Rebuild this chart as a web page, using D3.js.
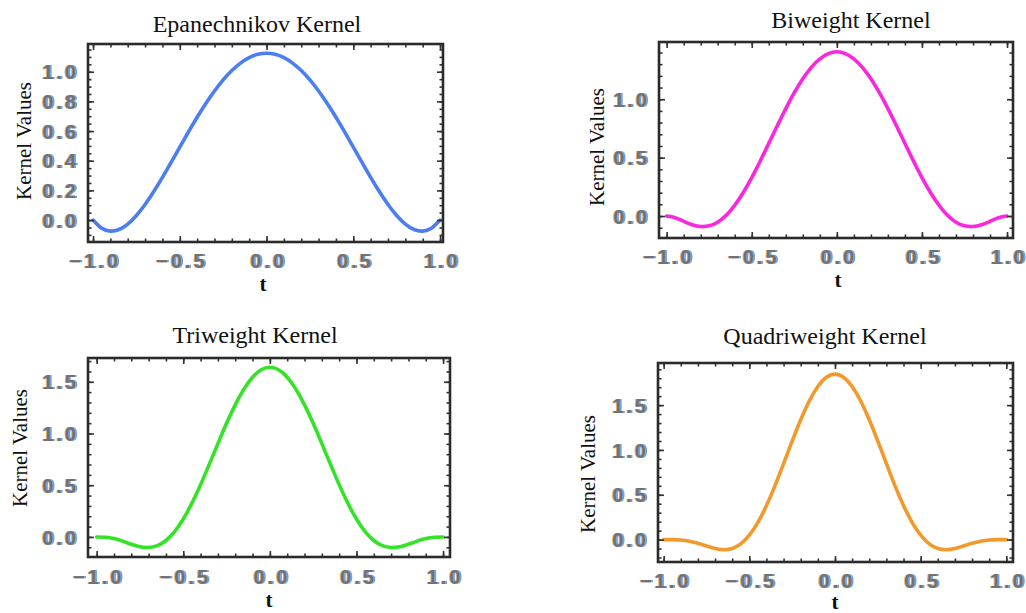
<!DOCTYPE html>
<html>
<head>
<meta charset="utf-8">
<script src="https://cdn.jsdelivr.net/npm/d3@7"></script>
<style>
  html, body { margin: 0; padding: 0; background: #fff; }
  svg { display: block; }
  .tick-label text { font-family: "Liberation Sans", Arial, sans-serif; font-size: 20px; font-weight: bold; fill: #717171; letter-spacing: 3px; }
  .title { font-family: "Liberation Serif", "Times New Roman", serif; font-size: 24px; fill: #111; }
  .ylab { font-family: "Liberation Serif", "Times New Roman", serif; font-size: 21px; fill: #111; }
  .xlab { font-family: "Liberation Serif", "Times New Roman", serif; font-size: 21px; font-weight: bold; fill: #111; }
</style>
</head>
<body>
<svg id="chart" width="1026" height="613"></svg>
<script>
// Sample points along t
const tValues = [-1.00, -0.95, -0.90, -0.85, -0.80, -0.75, -0.70, -0.65, -0.60, -0.55, -0.50,
                 -0.45, -0.40, -0.35, -0.30, -0.25, -0.20, -0.15, -0.10, -0.05, 0.00,
                  0.05, 0.10, 0.15, 0.20, 0.25, 0.30, 0.35, 0.40, 0.45, 0.50,
                  0.55, 0.60, 0.65, 0.70, 0.75, 0.80, 0.85, 0.90, 0.95, 1.00];

// Kernel values at each t
const epanechnikov = [0, -0.0553, -0.0748, -0.0637, -0.0270, 0.0308, 0.1052, 0.1922, 0.2880, 0.3891, 0.4922,
                      0.5944, 0.6930, 0.7856, 0.8702, 0.9448, 1.0080, 1.0584, 1.0952, 1.1175, 1.1250,
                      1.1175, 1.0952, 1.0584, 1.0080, 0.9448, 0.8702, 0.7856, 0.6930, 0.5944, 0.4922,
                      0.3891, 0.2880, 0.1922, 0.1052, 0.0308, -0.0270, -0.0637, -0.0748, -0.0553, 0];

const biweight = [0, -0.0148, -0.0452, -0.0743, -0.0899, -0.0841, -0.0524, 0.0066, 0.0922, 0.2013, 0.3296,
                  0.4718, 0.6218, 0.7733, 0.9200, 1.0557, 1.1750, 1.2731, 1.3461, 1.3911, 1.4063,
                  1.3911, 1.3461, 1.2731, 1.1750, 1.0557, 0.9200, 0.7733, 0.6218, 0.4718, 0.3296,
                  0.2013, 0.0922, 0.0066, -0.0524, -0.0841, -0.0899, -0.0743, -0.0452, -0.0148, 0];

const triweight = [0, -0.0026, -0.0161, -0.0409, -0.0704, -0.0945, -0.1023, -0.0845, -0.0344, 0.0515, 0.1730,
                   0.3266, 0.5056, 0.7012, 0.9025, 1.0984, 1.2773, 1.4289, 1.5441, 1.6161, 1.6406,
                   1.6161, 1.5441, 1.4289, 1.2773, 1.0984, 0.9025, 0.7012, 0.5056, 0.3266, 0.1730,
                   0.0515, -0.0344, -0.0845, -0.1023, -0.0945, -0.0704, -0.0409, -0.0161, -0.0026, 0];

const quadriweight = [0, -0.0004, -0.0047, -0.0180, -0.0417, -0.0718, -0.0995, -0.1127, -0.0991, -0.0477, 0.0487,
                      0.1922, 0.3798, 0.6028, 0.8480, 1.0990, 1.3377, 1.5461, 1.7080, 1.8106, 1.8457,
                      1.8106, 1.7080, 1.5461, 1.3377, 1.0990, 0.8480, 0.6028, 0.3798, 0.1922, 0.0487,
                      -0.0477, -0.0991, -0.1127, -0.0995, -0.0718, -0.0417, -0.0180, -0.0047, -0.0004, 0];

const panelTitles = ["Epanechnikov Kernel", "Biweight Kernel", "Triweight Kernel", "Quadriweight Kernel"];
const xTickLabels = [-1.0, -0.5, 0.0, 0.5, 1.0];
const yTickLabelsEpa = [0.0, 0.2, 0.4, 0.6, 0.8, 1.0];
const yTickLabelsBi = [0.0, 0.5, 1.0];
const yTickLabelsTri = [0.0, 0.5, 1.0, 1.5];
const yTickLabelsQuad = [0.0, 0.5, 1.0, 1.5];
const yAxisTitle = "Kernel Values";
const xAxisTitle = "t";

// Layout of the four framed panels
const panels = [
  { title: panelTitles[0], values: epanechnikov, color: "#4a7ef2",
    box: { x0: 88, x1: 443, y0: 44, y1: 242 }, xDomain: [-1.029, 1.017], yDomain: [-0.148, 1.187],
    yTicks: yTickLabelsEpa, yMajorStep: 0.2, yMinorStep: 0.05,
    titleAt: [257, 32], yLabAt: [31, 141], tAt: [263, 291], xLabBase: 268 },
  { title: panelTitles[1], values: biweight, color: "#fb26dd",
    box: { x0: 659, x1: 1013, y0: 42, y1: 238 }, xDomain: [-1.045, 1.035], yDomain: [-0.188, 1.49],
    yTicks: yTickLabelsBi, yMajorStep: 0.5, yMinorStep: 0.1,
    titleAt: [851, 28], yLabAt: [604, 147], tAt: [838, 287], xLabBase: 264 },
  { title: panelTitles[2], values: triweight, color: "#33e426",
    box: { x0: 88, x1: 450, y0: 358, y1: 557 }, xDomain: [-1.05, 1.04], yDomain: [-0.194, 1.73],
    yTicks: yTickLabelsTri, yMajorStep: 0.5, yMinorStep: 0.1,
    titleAt: [255, 343], yLabAt: [27, 448], tAt: [269, 607], xLabBase: 584 },
  { title: panelTitles[3], values: quadriweight, color: "#f3992c",
    box: { x0: 658, x1: 1013, y0: 363, y1: 562 }, xDomain: [-1.033, 1.039], yDomain: [-0.25, 1.97],
    yTicks: yTickLabelsQuad, yMajorStep: 0.5, yMinorStep: 0.1,
    titleAt: [825, 344], yLabAt: [595, 474], tAt: [835, 609], xLabBase: 588 }
];

const svg = d3.select("#chart");

// colour fringe around the tick numerals
const defs = svg.append("defs");
const f = defs.append("filter").attr("id", "fringe")
  .attr("x", "-20%").attr("y", "-30%").attr("width", "140%").attr("height", "160%");
f.append("feOffset").attr("in", "SourceAlpha").attr("dx", -1.5).attr("dy", 0).attr("result", "offL");
f.append("feFlood").attr("flood-color", "#eda24a").attr("flood-opacity", 0.9).attr("result", "colL");
f.append("feComposite").attr("in", "colL").attr("in2", "offL").attr("operator", "in").attr("result", "edgeL");
f.append("feOffset").attr("in", "SourceAlpha").attr("dx", 1.5).attr("dy", 0).attr("result", "offR");
f.append("feFlood").attr("flood-color", "#5b9be8").attr("flood-opacity", 0.9).attr("result", "colR");
f.append("feComposite").attr("in", "colR").attr("in2", "offR").attr("operator", "in").attr("result", "edgeR");
const merge = f.append("feMerge");
merge.append("feMergeNode").attr("in", "edgeL");
merge.append("feMergeNode").attr("in", "edgeR");
merge.append("feMergeNode").attr("in", "SourceGraphic");

const fmt = d3.format(".1f");
const stepTicks = (lo, hi, step) =>
  d3.range(Math.ceil(lo / step - 1e-9), Math.floor(hi / step + 1e-9) + 1).map(i => +(i * step).toFixed(4));

panels.forEach(p => {
  const { box } = p;
  const x = d3.scaleLinear().domain(p.xDomain).range([box.x0, box.x1]);
  const y = d3.scaleLinear().domain(p.yDomain).range([box.y1, box.y0]);
  const g = svg.append("g");

  // curve
  const pts = tValues.map((t, i) => [t, p.values[i]]);
  g.append("path")
    .datum(pts)
    .attr("fill", "none")
    .attr("stroke", p.color)
    .attr("stroke-width", 3.6)
    .attr("stroke-linejoin", "round")
    .attr("stroke-linecap", "round")
    .attr("d", d3.line().x(d => x(d[0])).y(d => y(d[1])).curve(d3.curveNatural));

  // inward ticks on all four sides
  const xMinor = stepTicks(p.xDomain[0], p.xDomain[1], 0.1);
  const xMajor = stepTicks(p.xDomain[0], p.xDomain[1], 0.5);
  const yMinor = stepTicks(p.yDomain[0], p.yDomain[1], p.yMinorStep);
  const yMajor = stepTicks(p.yDomain[0], p.yDomain[1], p.yMajorStep);

  const tickGroup = (axis, tx, ty) => {
    const a = g.append("g").attr("transform", `translate(${tx},${ty})`).call(axis);
    a.select(".domain").remove();
    a.selectAll("text").remove();
    a.selectAll("line").attr("stroke", "#333").attr("stroke-width", 1.6);
  };
  [[xMinor, 3.5], [xMajor, 6]].forEach(([vals, len]) => {
    tickGroup(d3.axisBottom(x).tickValues(vals).tickSize(-len), 0, box.y1);
    tickGroup(d3.axisTop(x).tickValues(vals).tickSize(-len), 0, box.y0);
  });
  [[yMinor, 3.5], [yMajor, 6]].forEach(([vals, len]) => {
    tickGroup(d3.axisLeft(y).tickValues(vals).tickSize(-len), box.x0, 0);
    tickGroup(d3.axisRight(y).tickValues(vals).tickSize(-len), box.x1, 0);
  });

  // frame
  g.append("rect")
    .attr("x", box.x0).attr("y", box.y0)
    .attr("width", box.x1 - box.x0).attr("height", box.y1 - box.y0)
    .attr("fill", "none").attr("stroke", "#2b2b2b").attr("stroke-width", 2.6);

  // tick numerals
  const xl = g.append("g").attr("class", "tick-label").attr("filter", "url(#fringe)")
    .attr("transform", `translate(0,${p.xLabBase})`)
    .call(d3.axisBottom(x).tickValues(xTickLabels).tickFormat(fmt).tickSize(0).tickPadding(0));
  xl.select(".domain").remove();
  xl.selectAll("text").attr("y", 0).attr("dy", null).attr("dx", 1.5);

  const yl = g.append("g").attr("class", "tick-label").attr("filter", "url(#fringe)")
    .attr("transform", `translate(${box.x0 - 9},0)`)
    .call(d3.axisLeft(y).tickValues(p.yTicks).tickFormat(fmt).tickSize(0).tickPadding(0));
  yl.select(".domain").remove();
  yl.selectAll("text").attr("dy", "0.36em");

  // titles
  g.append("text").attr("class", "title")
    .attr("x", p.titleAt[0]).attr("y", p.titleAt[1])
    .attr("text-anchor", "middle").text(p.title);
  g.append("text").attr("class", "ylab")
    .attr("transform", `translate(${p.yLabAt[0]},${p.yLabAt[1]}) rotate(-90)`)
    .attr("text-anchor", "middle").text(yAxisTitle);
  g.append("text").attr("class", "xlab")
    .attr("x", p.tAt[0]).attr("y", p.tAt[1])
    .attr("text-anchor", "middle").text(xAxisTitle);
});
</script>
</body>
</html>
